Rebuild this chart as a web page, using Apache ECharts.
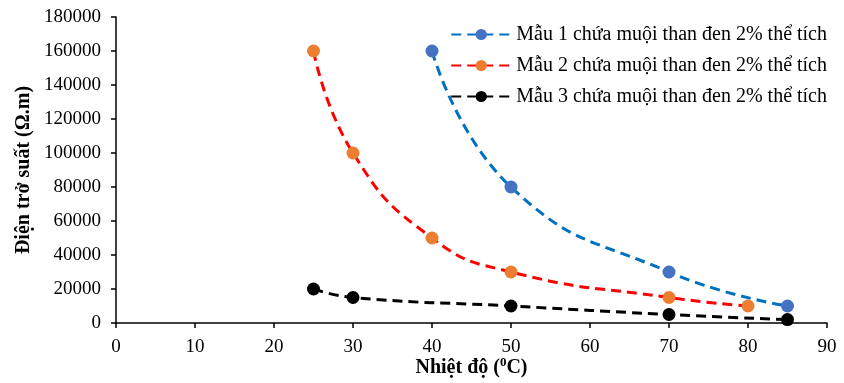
<!DOCTYPE html>
<html>
<head>
<meta charset="utf-8">
<script src="https://cdn.jsdelivr.net/npm/echarts@6/dist/echarts.min.js"></script>
<style>
  html, body { margin: 0; padding: 0; background: #fff; }
  #chart { width: 844px; height: 383px; }
</style>
</head>
<body>
<div id="chart"></div>
<script>
// Temperature (°C) and resistivity (Ω.m) for each sample
const temps1 = [40, 50, 70, 85];
const values1 = [160000, 80000, 30000, 10000];

const temps2 = [25, 30, 40, 50, 70, 80];
const values2 = [160000, 100000, 50000, 30000, 15000, 10000];

const temps3 = [25, 30, 50, 70, 85];
const values3 = [20000, 15000, 10000, 5000, 2000];

const seriesNames = [
  'Mẫu 1 chứa muội than đen 2% thể tích',
  'Mẫu 2 chứa muội than đen 2% thể tích',
  'Mẫu 3 chứa muội than đen 2% thể tích'
];

const FONT = '"Liberation Serif", "Times New Roman", serif';

function pairs(xs, ys) {
  return xs.map((x, i) => [x, ys[i]]);
}

function makeSeries(name, data, lineColor, markerColor) {
  return {
    name: name,
    type: 'line',
    data: data,
    smooth: 0.5,
    symbol: 'circle',
    symbolSize: 13,
    showSymbol: true,
    lineStyle: { color: lineColor, width: 3, type: [10, 6] },
    itemStyle: { color: markerColor },
    emphasis: { disabled: true }
  };
}

const chart = echarts.init(document.getElementById('chart'));
chart.setOption({
  animation: false,
  backgroundColor: '#ffffff',
  grid: { left: 116, right: 17, top: 17, bottom: 60, containLabel: false, outerBoundsMode: 'none' },
  legend: {
    orient: 'vertical',
    right: 12,
    top: 19,
    itemWidth: 60,
    itemHeight: 14,
    itemGap: 10,
    textStyle: { fontFamily: FONT, fontSize: 20, lineHeight: 21, color: '#000' },
    data: seriesNames
  },
  xAxis: {
    type: 'value',
    min: 0,
    max: 90,
    interval: 10,
    name: 'Nhiệt độ ({sup|0}C)',
    nameLocation: 'middle',
    nameGap: 33,
    nameMoveOverlap: false,
    nameTextStyle: {
      fontFamily: FONT, fontSize: 20, fontWeight: 'bold', color: '#000',
      rich: {
        sup: { fontFamily: FONT, fontSize: 13, fontWeight: 'bold', color: '#000', verticalAlign: 'top', padding: [0, 0, 10, 0] }
      }
    },
    axisLine: { show: true, lineStyle: { color: '#000', width: 1.5 } },
    axisTick: { show: true, length: 5, inside: false, lineStyle: { color: '#000', width: 1.5 } },
    axisLabel: { fontFamily: FONT, fontSize: 19, color: '#000', margin: 15 },
    splitLine: { show: false }
  },
  yAxis: {
    type: 'value',
    min: 0,
    max: 180000,
    interval: 20000,
    name: 'Điện trở suất (Ω.m)',
    nameLocation: 'middle',
    nameGap: 82,
    nameMoveOverlap: false,
    nameTextStyle: { fontFamily: FONT, fontSize: 20, fontWeight: 'bold', color: '#000' },
    axisLine: { show: true, lineStyle: { color: '#000', width: 1.5 } },
    axisTick: { show: true, length: 5, inside: false, lineStyle: { color: '#000', width: 1.5 } },
    axisLabel: { fontFamily: FONT, fontSize: 19, color: '#000', margin: 15, formatter: (v) => String(v) },
    splitLine: { show: false }
  },
  series: [
    makeSeries(seriesNames[0], pairs(temps1, values1), '#0070C0', '#4472C4'),
    makeSeries(seriesNames[1], pairs(temps2, values2), '#FF0000', '#ED7D31'),
    makeSeries(seriesNames[2], pairs(temps3, values3), '#000000', '#000000')
  ]
});
</script>
</body>
</html>
